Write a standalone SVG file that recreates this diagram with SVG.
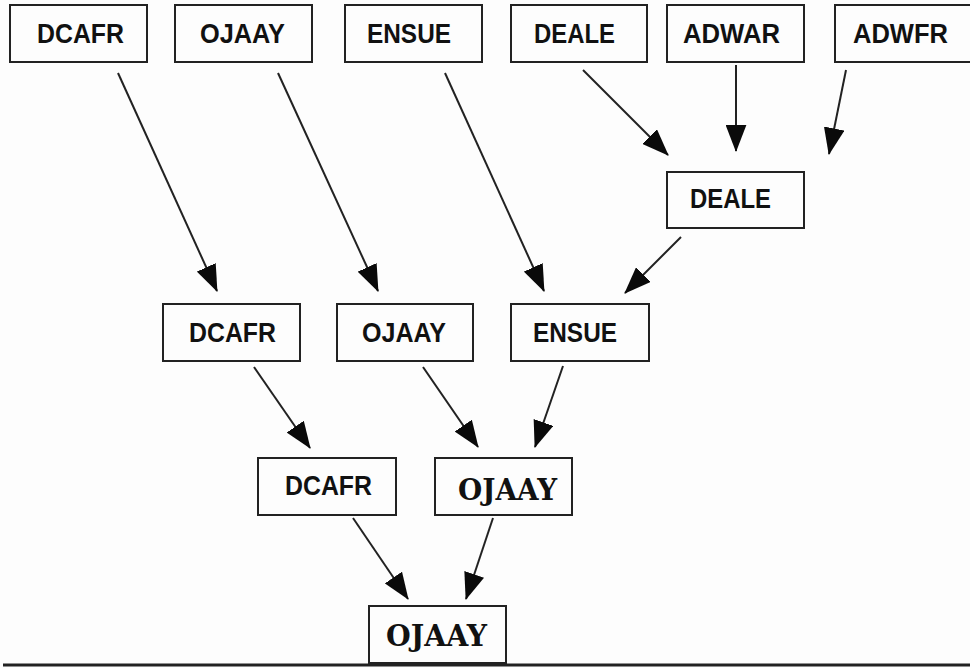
<svg xmlns="http://www.w3.org/2000/svg" width="970" height="668" viewBox="0 0 970 668">
<style>
.box{fill:#fdfdfd;stroke:#222;stroke-width:2}
.t{font-family:"Liberation Sans",Arial,sans-serif;font-weight:bold;font-size:27px;fill:#111;text-anchor:middle}
.s{font-family:"DejaVu Serif","Liberation Serif",serif;font-weight:bold;font-size:29px;fill:#111;text-anchor:middle}
.e{stroke:#222;stroke-width:2;fill:none;marker-end:url(#ah)}
</style>
<defs>
<marker id="ah" markerUnits="userSpaceOnUse" markerWidth="27" markerHeight="21" viewBox="0 0 26 20" refX="25" refY="10" orient="auto">
<path d="M0,0 L26,10 L0,20 z" fill="#0a0a0a"/>
</marker>
</defs>
<rect width="970" height="668" fill="#fdfdfd"/>
<line x1="3" y1="665" x2="970" y2="665" stroke="#222" stroke-width="3"/>
<g id="connectors">
<line class="e" x1="118" y1="73" x2="217" y2="291"/>
<line class="e" x1="278" y1="73" x2="378" y2="291"/>
<line class="e" x1="445" y1="73" x2="544" y2="291"/>
<line class="e" x1="583" y1="70" x2="668" y2="155"/>
<line class="e" x1="736" y1="65" x2="736" y2="151"/>
<line class="e" x1="846" y1="70" x2="829" y2="154"/>
<line class="e" x1="681" y1="237" x2="625" y2="293"/>
<line class="e" x1="254" y1="367" x2="310" y2="448"/>
<line class="e" x1="423" y1="367" x2="478" y2="447"/>
<line class="e" x1="563" y1="366" x2="535" y2="447"/>
<line class="e" x1="353" y1="518" x2="408" y2="599"/>
<line class="e" x1="493" y1="518" x2="466" y2="599"/>
</g>
<g id="n1"><rect class="box" x="10" y="5" width="137" height="57"/><text class="t" x="80.5" y="43" textLength="87" lengthAdjust="spacingAndGlyphs">DCAFR</text></g>
<g id="n2"><rect class="box" x="175" y="5" width="137" height="57"/><text class="t" x="242.5" y="43" textLength="85" lengthAdjust="spacingAndGlyphs">OJAAY</text></g>
<g id="n3"><rect class="box" x="345" y="5" width="137" height="57"/><text class="t" x="409" y="43" textLength="84" lengthAdjust="spacingAndGlyphs">ENSUE</text></g>
<g id="n4"><rect class="box" x="511" y="5" width="136" height="57"/><text class="t" x="574.5" y="43" textLength="81" lengthAdjust="spacingAndGlyphs">DEALE</text></g>
<g id="n5"><rect class="box" x="667" y="5" width="137" height="57"/><text class="t" x="731.5" y="43" textLength="97" lengthAdjust="spacingAndGlyphs">ADWAR</text></g>
<g id="n6"><rect class="box" x="835" y="5" width="137" height="57"/><text class="t" x="900.5" y="43" textLength="95" lengthAdjust="spacingAndGlyphs">ADWFR</text></g>
<g id="n7"><rect class="box" x="667" y="172" width="137" height="56"/><text class="t" x="730.5" y="208" textLength="81" lengthAdjust="spacingAndGlyphs">DEALE</text></g>
<g id="n8"><rect class="box" x="163" y="304" width="137" height="57"/><text class="t" x="232.5" y="342" textLength="87" lengthAdjust="spacingAndGlyphs">DCAFR</text></g>
<g id="n9"><rect class="box" x="337" y="304" width="136" height="57"/><text class="t" x="404" y="342" textLength="84" lengthAdjust="spacingAndGlyphs">OJAAY</text></g>
<g id="n10"><rect class="box" x="511" y="304" width="138" height="57"/><text class="t" x="575" y="342" textLength="84" lengthAdjust="spacingAndGlyphs">ENSUE</text></g>
<g id="n11"><rect class="box" x="258" y="458" width="138" height="57"/><text class="t" x="328.5" y="495" textLength="87" lengthAdjust="spacingAndGlyphs">DCAFR</text></g>
<g id="n12"><rect class="box" x="435" y="458" width="137" height="57"/><text class="s" x="507.5" y="500" textLength="99" lengthAdjust="spacingAndGlyphs">OJAAY</text></g>
<g id="n13"><rect class="box" x="369" y="606" width="137" height="57"/><text class="s" x="436.5" y="646" textLength="101" lengthAdjust="spacingAndGlyphs">OJAAY</text></g>
</svg>
